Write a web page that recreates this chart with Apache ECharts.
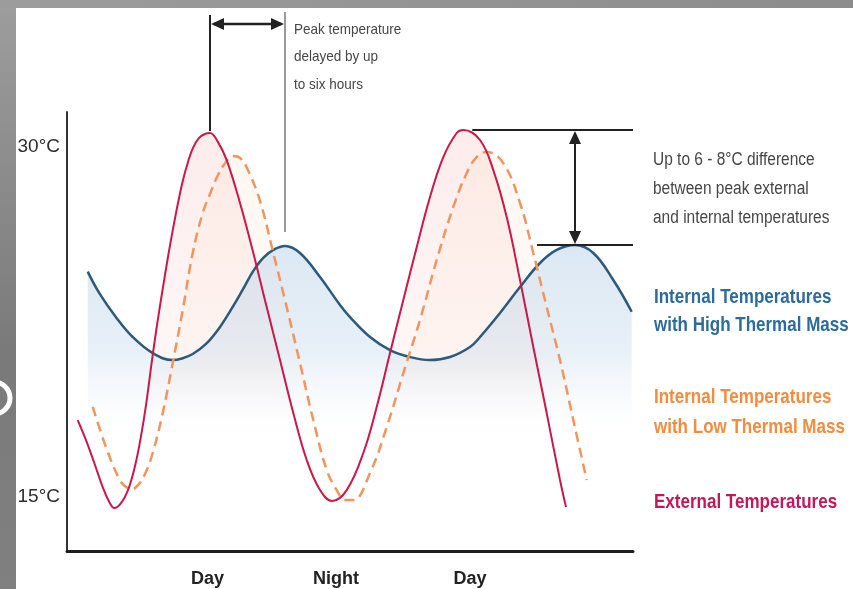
<!DOCTYPE html>
<html><head><meta charset="utf-8">
<script src="https://cdn.jsdelivr.net/npm/echarts@6/dist/echarts.min.js"></script>
<style>html,body{margin:0;padding:0;background:#8f8f8f}#c{width:853px;height:589px}</style>
</head><body><div id="c"></div>
<script>
// ---- data (x: time along the day/night cycle, y: temperature °C) ----
const timeExternal = [1.07,1.9,2.73,3.57,4.23,4.73,5.4,6.1,6.8,7.4,7.9,8.5,9.0,9.6,10.1,10.6,11.1,11.6,12.1,12.6,13.2,13.8,14.3,15.1,15.97,17.3,18.63,19.97,21.3,22.63,23.97,25.3,26.5,27.97,29.63,30.97,32.3,33.63,34.97,36.3,37.63,38.97,39.63,41.3,42.63,43.97,45.3,46.63,47.97,49.3,49.9];
const tempExternal = [18.3,17.44,16.46,15.43,14.79,14.53,14.74,15.3,16.33,17.61,18.94,20.87,22.37,24.0,25.29,26.49,27.6,28.59,29.36,29.96,30.39,30.56,30.6,30.21,29.44,27.6,25.46,23.14,20.87,18.6,16.59,15.3,14.83,15.3,16.89,18.86,21.17,23.44,25.71,27.86,29.57,30.6,30.73,30.3,29.01,27.0,24.3,21.43,18.6,15.73,14.57];

const timeHigh = [2.07,3.23,4.9,6.57,8.57,10.57,11.5,12.57,13.9,15.3,16.63,17.6,18.63,19.6,20.63,21.8,23.3,25.3,27.3,28.3,30.3,32.3,34.3,36.3,38.3,40.3,41.3,43.3,45.3,47.3,48.97,50.8,52.63,54.63,56.47];
const tempHigh = [24.66,23.74,22.71,21.86,21.17,20.87,20.94,21.13,21.56,22.29,23.19,23.91,24.69,25.24,25.59,25.76,25.46,24.43,23.23,22.71,21.86,21.3,21.0,20.87,21.0,21.43,21.86,22.89,24.0,25.03,25.59,25.8,25.46,24.3,22.94];

const timeLow = [2.57,3.9,5.23,5.9,6.5,7.1,7.8,8.57,9.57,10.57,11.57,12.57,13.57,14.3,15.1,15.9,16.6,17.3,18.0,19.3,20.63,21.97,23.3,24.63,25.97,26.97,27.8,28.63,30.3,31.97,33.63,35.3,36.97,38.63,39.97,40.97,41.97,43.63,45.3,46.63,47.97,49.3,50.63,51.97];
const tempLow = [18.87,17.14,15.77,15.43,15.34,15.51,15.99,16.89,18.6,20.74,23.01,25.46,27.17,27.99,28.8,29.36,29.61,29.53,29.1,27.69,25.46,23.14,20.74,18.3,16.16,15.3,14.87,14.87,16.03,18.0,20.31,22.59,25.16,27.43,28.89,29.57,29.79,29.31,27.6,25.46,23.14,20.87,18.3,15.73];

const xTickValues = [14.05, 26.9, 40.3];
const xTickLabels = ['Day', 'Night', 'Day'];
const yTickValues = [15, 30];

const nameHigh = 'Internal Temperatures\nwith High Thermal Mass';
const nameLow = 'Internal Temperatures\nwith Low Thermal Mass';
const nameExt = 'External Temperatures';

// ---- build ----
const FONT = '"Liberation Sans", Arial, sans-serif';
const zip = (xs, ys) => xs.map((x, i) => [x, ys[i]]);
const dExt = zip(timeExternal, tempExternal);
const dHigh = zip(timeHigh, tempHigh);
const dLow = zip(timeLow, tempLow);

const C_RED = '#c9184a', C_BLUE = '#2a5a7c', C_ORANGE = '#f2955c';
const SMOOTH = 0.4;
const grad = (stops) => new echarts.graphic.LinearGradient(0, 0, 0, 1, stops.map(s => ({offset: s[0], color: s[1]})));

const chart = echarts.init(document.getElementById('c'), null, {renderer: 'canvas'});

const fillSeries = (data, stops) => ({
  type: 'line', data, smooth: SMOOTH, symbol: 'none', silent: true, z: 1,
  lineStyle: {width: 0, opacity: 0}, areaStyle: {origin: 'start', color: grad(stops)}
});

chart.setOption({
  backgroundColor: '#959595',
  animation: false,
  grid: {left: 67, right: 220, top: 112, bottom: 38},
  xAxis: {
    type: 'value', min: 0, max: 56.6,
    axisLine: {show: true, lineStyle: {color: '#1e1e1e', width: 3}},
    axisTick: {show: false}, splitLine: {show: false},
    axisLabel: {
      customValues: xTickValues, margin: 19,
      formatter: v => xTickLabels[xTickValues.indexOf(v)] || '',
      color: '#222', fontFamily: FONT, fontSize: 18, fontWeight: 'bold'
    }
  },
  yAxis: {
    type: 'value', min: 12.69, max: 31.5,
    axisLine: {show: true, lineStyle: {color: '#333', width: 2}},
    axisTick: {show: false}, splitLine: {show: false},
    axisLabel: {
      customValues: yTickValues, margin: 7,
      formatter: v => v + '°C',
      color: '#2e2e2e', fontFamily: FONT, fontSize: 19
    }
  },
  graphic: {elements: [
    {id: 'white', type: 'rect', z: -10, silent: true, shape: {x: 16, y: 8, width: 853, height: 589}, style: {fill: '#ffffff'}},
    {id: 'leftband', type: 'rect', z: -10, silent: true, shape: {x: 0, y: 0, width: 16, height: 589},
      style: {fill: new echarts.graphic.LinearGradient(0, 0, 0, 1, [{offset: 0, color: '#9d9d9d'}, {offset: 0.6, color: '#7a7a7a'}, {offset: 1, color: '#808080'}])}},
    {id: 'topband', type: 'rect', z: -10, silent: true, shape: {x: 0, y: 0, width: 853, height: 8},
      style: {fill: new echarts.graphic.LinearGradient(0, 0, 1, 0, [{offset: 0, color: '#9c9c9c'}, {offset: 1, color: '#8c8c8c'}])}},
    {id: 'dfrag', type: 'arc', z: -9, silent: true, shape: {cx: -6, cy: 398, r: 16, startAngle: -Math.PI / 2, endAngle: Math.PI / 2}, style: {stroke: '#ffffff', lineWidth: 5, fill: null}}
  ]},
  series: [
    fillSeries(dExt, [[0, 'rgba(248,205,205,0.55)'], [0.55, 'rgba(252,226,222,0.4)'], [0.75, 'rgba(255,255,255,0)']]),
    fillSeries(dLow, [[0, 'rgba(253,222,200,0.35)'], [0.55, 'rgba(253,232,218,0.25)'], [0.72, 'rgba(255,255,255,0)']]),
    fillSeries(dHigh, [[0, 'rgba(182,207,230,0.7)'], [0.35, 'rgba(200,220,238,0.6)'], [0.5, 'rgba(225,236,247,0.35)'], [0.62, 'rgba(255,255,255,0)']]),
    {name: nameHigh, type: 'line', data: dHigh, smooth: SMOOTH, symbol: 'none', z: 3,
      lineStyle: {color: C_BLUE, width: 2.5}, itemStyle: {color: C_BLUE}},
    {name: nameLow, type: 'line', data: dLow, smooth: SMOOTH, symbol: 'none', z: 3,
      lineStyle: {color: C_ORANGE, width: 2.5, type: [10, 6]}, itemStyle: {color: C_ORANGE}},
    {name: nameExt, type: 'line', data: dExt, smooth: SMOOTH, symbol: 'none', z: 4,
      lineStyle: {color: C_RED, width: 2}, itemStyle: {color: C_RED}}
  ]
});

// ---- annotations anchored to the data peaks ----
const toPx = p => chart.convertToPixel({xAxisIndex: 0, yAxisIndex: 0}, p);
function peakIn(xs, ys, lo, hi) {
  let best = -1;
  xs.forEach((x, i) => { if (x >= lo && x <= hi && (best < 0 || ys[i] > ys[best])) best = i; });
  return toPx([xs[best], ys[best]]);
}
const r1 = peakIn(timeExternal, tempExternal, 0, 26);
const r2 = peakIn(timeExternal, tempExternal, 26, 60);
const b1 = peakIn(timeHigh, tempHigh, 0, 35);
const b2 = peakIn(timeHigh, tempHigh, 35, 60);
const xRight = toPx([56.6, 20])[0];
const K = '#222';
const ay = 24;
const txt = (id, x, y, text, color, size, lh, weight, sx) => ({
  id, type: 'text', z: 10, x, y, scaleX: sx,
  style: {text, fill: color, fontFamily: FONT, fontSize: size, fontWeight: weight, lineHeight: lh, verticalAlign: 'top'}
});
chart.setOption({graphic: {elements: [
  {id: 'v1', type: 'line', z: 10, shape: {x1: r1[0], y1: 15, x2: r1[0], y2: r1[1] - 2}, style: {stroke: K, lineWidth: 2}},
  {id: 'v2', type: 'line', z: 10, shape: {x1: b1[0], y1: 12, x2: b1[0], y2: b1[1] - 14}, style: {stroke: '#9a9a9a', lineWidth: 2}},
  {id: 'h1', type: 'line', z: 10, shape: {x1: r1[0] + 4, y1: ay, x2: b1[0] - 4, y2: ay}, style: {stroke: K, lineWidth: 2.5}},
  {id: 'h1a', type: 'polygon', z: 10, shape: {points: [[r1[0] + 1, ay], [r1[0] + 14, ay - 6], [r1[0] + 14, ay + 6]]}, style: {fill: K}},
  {id: 'h1b', type: 'polygon', z: 10, shape: {points: [[b1[0] - 1, ay], [b1[0] - 14, ay - 6], [b1[0] - 14, ay + 6]]}, style: {fill: K}},
  txt('t1', 294, 16, 'Peak temperature\ndelayed by up\nto six hours', '#474747', 15, 27.5, 'normal', 0.9),
  {id: 'hr', type: 'line', z: 10, shape: {x1: r2[0] + 9, y1: r2[1], x2: xRight, y2: r2[1]}, style: {stroke: K, lineWidth: 2}},
  {id: 'hb', type: 'line', z: 10, shape: {x1: b2[0] - 38, y1: b2[1], x2: xRight, y2: b2[1]}, style: {stroke: K, lineWidth: 2}},
  {id: 'va', type: 'line', z: 10, shape: {x1: b2[0], y1: r2[1] + 4, x2: b2[0], y2: b2[1] - 4}, style: {stroke: K, lineWidth: 2}},
  {id: 'vaa', type: 'polygon', z: 10, shape: {points: [[b2[0], r2[1] + 1], [b2[0] - 6, r2[1] + 14], [b2[0] + 6, r2[1] + 14]]}, style: {fill: K}},
  {id: 'vab', type: 'polygon', z: 10, shape: {points: [[b2[0], b2[1] - 1], [b2[0] - 6, b2[1] - 14], [b2[0] + 6, b2[1] - 14]]}, style: {fill: K}},
  txt('t2', 653, 146, 'Up to 6 - 8°C difference\nbetween peak external\nand internal temperatures', '#474747', 18, 29, 'normal', 0.86),
  txt('lg1', 654, 283, nameHigh, '#2d6b9a', 21, 28, 'bold', 0.81),
  txt('lg2', 654, 382, nameLow, '#f28c3e', 21, 30, 'bold', 0.81),
  txt('lg3', 654, 488, nameExt, '#c2185b', 21, 28, 'bold', 0.81)
]}});
</script>
</body></html>
